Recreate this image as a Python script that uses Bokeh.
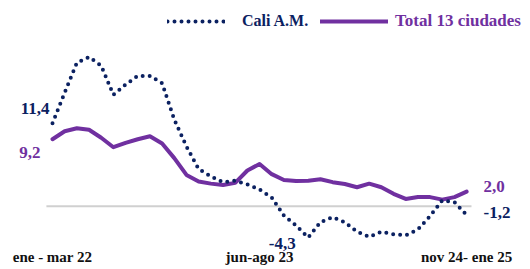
from bokeh.plotting import figure
from bokeh.models import Legend, LegendItem
from bokeh.embed import file_html
from bokeh.resources import INLINE
from bokeh.core.properties import value

periods = [
    "ene-mar 22", "feb-abr 22", "mar-may 22", "abr-jun 22", "may-jul 22", "jun-ago 22",
    "jul-sep 22", "ago-oct 22", "sep-nov 22", "oct-dic 22", "nov 22-ene 23", "dic 22-feb 23",
    "ene-mar 23", "feb-abr 23", "mar-may 23", "abr-jun 23", "may-jul 23", "jun-ago 23",
    "jul-sep 23", "ago-oct 23", "sep-nov 23", "oct-dic 23", "nov 23-ene 24", "dic 23-feb 24",
    "ene-mar 24", "feb-abr 24", "mar-may 24", "abr-jun 24", "may-jul 24", "jun-ago 24",
    "jul-sep 24", "ago-oct 24", "sep-nov 24", "oct-dic 24", "nov 24-ene 25",
]

cali = [11.4, 15.6, 19.7, 20.5, 19.3, 15.3, 16.7, 17.9, 17.9, 16.9,
        11.9, 8.2, 5.1, 4.1, 3.3, 3.5, 3.0, 2.3, 1.2, -1.3,
        -2.65, -4.3, -2.2, -1.5, -2.2, -3.5, -4.2, -3.5, -3.85, -4.0,
        -3.2, -1.35, 0.8, 0.55, -1.2]

total13 = [9.2, 10.3, 10.7, 10.5, 9.4, 8.1, 8.7, 9.2, 9.6, 8.6,
           6.6, 4.3, 3.4, 3.1, 2.9, 3.2, 4.9, 5.8, 4.4, 3.6,
           3.45, 3.5, 3.7, 3.3, 3.05, 2.6, 3.1, 2.6, 1.7, 1.0,
           1.25, 1.25, 0.9, 1.25, 2.0]

tick_idx = [0, 17, 34]
tick_labels = ["ene - mar 22", "jun-ago 23", "nov 24- ene 25"]

series_names = ["Cali A.M.", "Total 13 ciudades"]

NAVY = "#0B2161"
PURPLE = "#7030A0"
FONT = "'Liberation Serif'"

x = list(range(len(periods)))

p = figure(width=530, height=269, output_backend="svg", toolbar_location=None,
           x_range=(-4.269, 39.245), y_range=(-8.695, 28.255),
           min_border_left=0, min_border_right=0, min_border_top=0, min_border_bottom=0)
p.axis.visible = False
p.grid.visible = False
p.outline_line_color = None
p.background_fill_color = "white"
p.border_fill_color = "white"

# zero line
p.line(x=[x[0] - 0.5, x[-1] + 0.4], y=[0, 0], line_color="#D0D0D0", line_width=2)

r_total = p.line(x=x, y=total13, line_color=PURPLE, line_width=4, line_join="round", line_cap="round")
r_cali = p.line(x=x, y=cali, line_color=NAVY, line_width=4, line_dash="0 7", line_cap="round")

# tick labels
p.text(x=tick_idx, y=[-8.1] * len(tick_idx), text=tick_labels, text_align="center",
       text_baseline="bottom", text_font=value(FONT), text_font_style="bold",
       text_font_size="15px", text_color="#111111")

def lab(i, vals, txt_color, xo, yo, align):
    v = vals[i]
    s = f"{v:.1f}".replace(".", ",")
    p.text(x=[x[i]], y=[v], text=[s], x_offset=xo, y_offset=yo, text_align=align,
           text_baseline="middle", text_font=value(FONT), text_font_style="bold",
           text_font_size="17px", text_color=txt_color)

lab(0, cali, NAVY, -3, -15, "right")
lab(0, total13, PURPLE, -12, 13, "right")
lab(34, total13, PURPLE, 17, -5, "left")
lab(34, cali, NAVY, 17, -2, "left")
lab(21, cali, NAVY, -26, 6, "center")

leg1 = Legend(items=[LegendItem(label=series_names[0], renderers=[r_cali])],
              location=(167, 238), orientation="horizontal", glyph_width=58,
              label_standoff=17, padding=0, margin=0, border_line_color=None,
              background_fill_alpha=0, label_text_font=FONT, label_text_font_style="bold",
              label_text_font_size="16px", label_text_color=NAVY)
leg2 = Legend(items=[LegendItem(label=series_names[1], renderers=[r_total])],
              location=(320, 238), orientation="horizontal", glyph_width=68,
              label_standoff=7, padding=0, margin=0, border_line_color=None,
              background_fill_alpha=0, label_text_font=FONT, label_text_font_style="bold",
              label_text_font_size="17px", label_text_color=PURPLE)
p.add_layout(leg1)
p.add_layout(leg2)

open("out.html", "w").write(file_html(p, INLINE))
